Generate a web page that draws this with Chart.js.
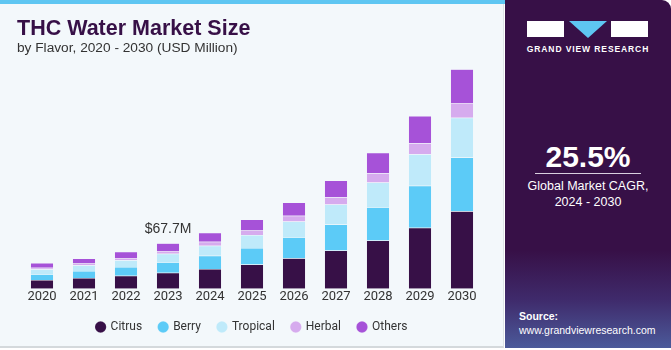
<!DOCTYPE html>
<html>
<head>
<meta charset="utf-8">
<script src="https://cdn.jsdelivr.net/npm/chart.js@4.4.1/dist/chart.umd.min.js"></script>
<style>
  body { margin: 0; width: 671px; height: 350px; overflow: hidden; background: #ffffff; font-family: "Liberation Sans", Arial, sans-serif; }
  #left { position: absolute; left: 0; top: 0; width: 503px; height: 346px; background: #f3f8fb; border-right: 1px solid #dde3e7; border-bottom: 2px solid #d4d9dc; }
  #stripe { position: absolute; left: 0; top: 0; width: 505px; height: 4px; background: #5ec6f2; }
  #title { position: absolute; left: 17px; top: 16px; font-size: 21.5px; font-weight: bold; color: #371047; }
  #sub { position: absolute; left: 17px; top: 40px; font-size: 13.7px; color: #333; }
  #chartBox { position: absolute; left: 0; top: 0; width: 500px; height: 350px; }
  #right { position: absolute; left: 505px; top: 0; width: 166px; height: 348px; border-top-right-radius: 9px;
    background: linear-gradient(to bottom, #371047 0%, #371047 72%, #3f2a6b 86%, #4b5a9a 100%); color: #fff; }
  .logo { position: absolute; top: 21px; height: 16px; }
  #l1 { left: 22px; width: 37px; background: #fff; }
  #l3 { left: 106px; width: 37px; background: #fff; }
  #l2 { left: 64px; width: 0; height: 0; border-left: 19px solid transparent; border-right: 19px solid transparent; border-top: 17px solid #5ec6f2; }
  #gvr { position: absolute; left: 0; width: 166px; top: 44px; text-align: center; font-size: 8.5px; font-weight: bold; letter-spacing: 0.9px; }
  #cagr { position: absolute; left: 0; width: 166px; top: 140px; text-align: center; font-size: 30px; font-weight: bold; }
  #line { position: absolute; left: 30px; width: 106px; top: 173px; height: 1px; background: #d9cfe0; }
  #cagrTxt { position: absolute; left: 0; width: 166px; top: 178px; text-align: center; font-size: 12.5px; line-height: 16px; }
  #src { position: absolute; left: 14px; top: 309px; font-size: 10.5px; line-height: 14px; }
</style>
</head>
<body>
<div id="left"></div>
<div id="stripe"></div>
<div id="chartBox"><canvas id="myChart" width="500" height="350"></canvas></div>
<div id="title">THC Water Market Size</div>
<div id="sub">by Flavor, 2020 - 2030 (USD Million)</div>
<div id="right">
  <div class="logo" id="l1"></div>
  <div class="logo" id="l2"></div>
  <div class="logo" id="l3"></div>
  <div id="gvr">GRAND VIEW RESEARCH</div>
  <div id="cagr">25.5%</div>
  <div id="line"></div>
  <div id="cagrTxt">Global Market CAGR,<br>2024 - 2030</div>
  <div id="src"><b>Source:</b><br>www.grandviewresearch.com</div>
</div>
<script>
const years = ["2020", "2021", "2022", "2023", "2024", "2025", "2026", "2027", "2028", "2029", "2030"];
const citrus = [13.0, 15.9, 19.3, 23.6, 29.4, 36.2, 45.4, 57.0, 72.0, 90.9, 115.5];
const berry = [8.7, 10.6, 13.0, 15.9, 19.9, 24.6, 31.5, 38.7, 49.3, 62.8, 80.2];
const tropical = [7.2, 8.3, 10.1, 12.6, 14.9, 19.3, 23.2, 30.0, 37.1, 46.8, 59.4];
const herbal = [2.2, 2.9, 3.5, 4.3, 5.8, 6.8, 8.7, 10.6, 13.6, 16.5, 21.7];
const others = [7.2, 7.2, 9.1, 11.2, 13.6, 16.4, 19.9, 25.1, 30.9, 40.6, 50.3];
const calloutIndex = 3;
const calloutText = "$67.7M";

// value label above the 2023 bar
const callout = {
  id: "callout",
  afterDatasetsDraw(chart) {
    const meta = chart.getDatasetMeta(chart.data.datasets.length - 1);
    const bar = meta.data[calloutIndex];
    const ctx = chart.ctx;
    ctx.save();
    ctx.font = "14px 'Liberation Sans', Arial, sans-serif";
    ctx.fillStyle = "#333333";
    ctx.textAlign = "center";
    ctx.textBaseline = "bottom";
    ctx.fillText(calloutText, bar.x, bar.y - 7);
    ctx.restore();
  }
};

function ds(label, data, color) {
  return { label: label, data: data, backgroundColor: color, borderColor: "rgba(255,255,255,0.25)", borderWidth: 0.5,
    barPercentage: 0.55, categoryPercentage: 1 };
}

new Chart(document.getElementById("myChart"), {
  type: "bar",
  data: {
    labels: years,
    datasets: [
      ds("Citrus", citrus, "#371047"),
      ds("Berry", berry, "#5ccbf7"),
      ds("Tropical", tropical, "#bfeafa"),
      ds("Herbal", herbal, "#d6abee"),
      ds("Others", others, "#a652d8")
    ]
  },
  options: {
    responsive: false,
    animation: false,
    layout: { padding: { left: 21, right: 17, top: 54, bottom: 7 } },
    scales: {
      x: { stacked: true, grid: { display: false, drawTicks: false, tickLength: 0 }, border: { display: false },
        ticks: { color: "#333333", padding: 7, font: { family: "Roboto", size: 13, lineHeight: 0.1 } } },
      y: { stacked: true, display: false, min: 0, max: 350 }
    },
    plugins: {
      legend: { position: "bottom",
        labels: { usePointStyle: true, pointStyle: "circle", boxWidth: 8, boxHeight: 8, padding: 17,
          color: "#333333", font: { family: "Roboto", size: 12 } } },
      tooltip: { enabled: false }
    }
  },
  plugins: [callout]
});
</script>
</body>
</html>
